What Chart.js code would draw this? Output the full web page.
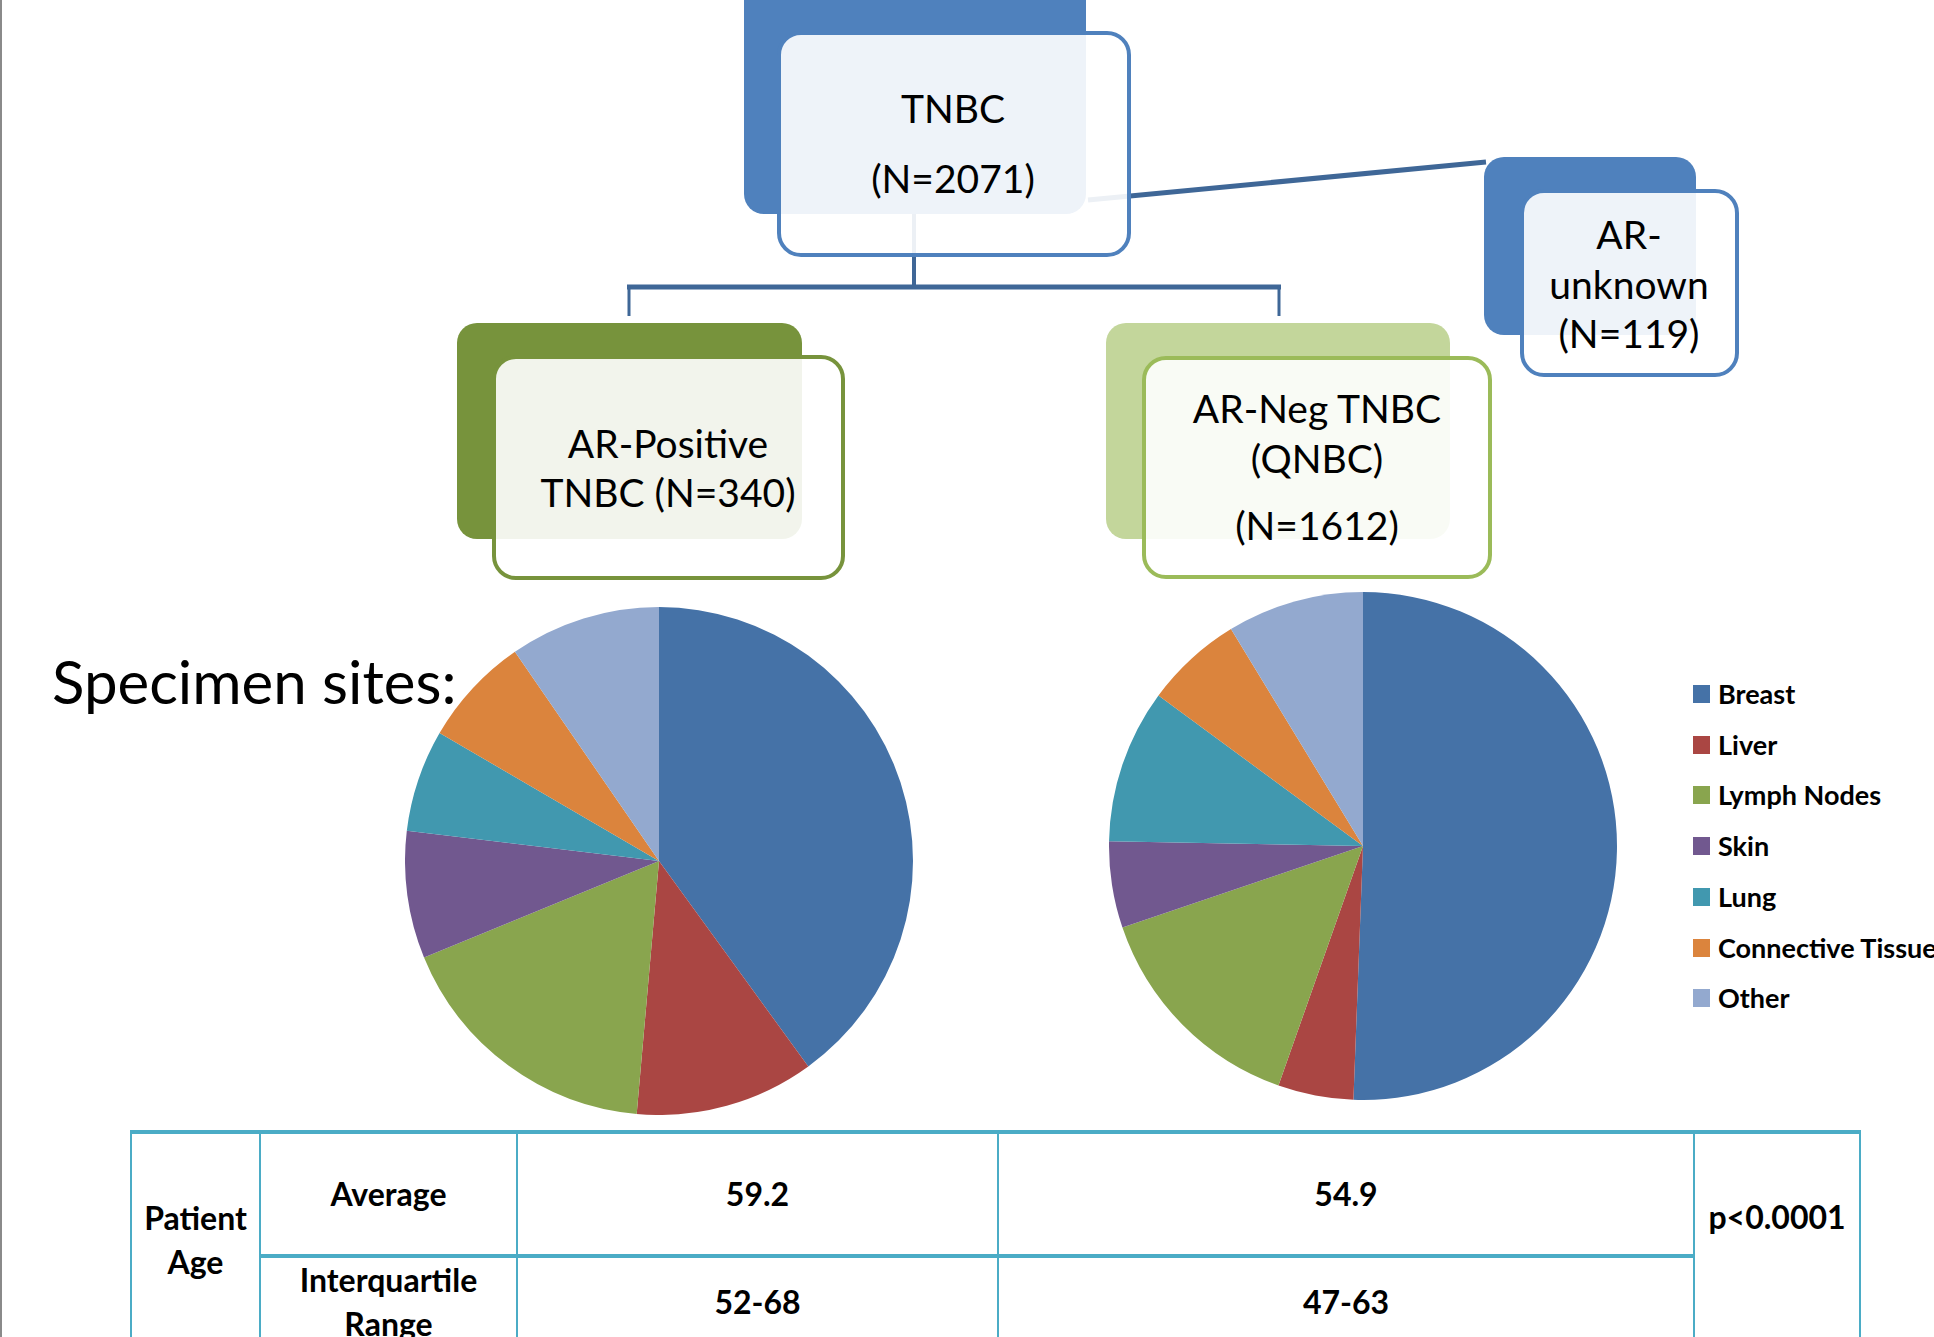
<!DOCTYPE html>
<html>
<head>
<meta charset="utf-8">
<script src="https://cdn.jsdelivr.net/npm/chart.js@4/dist/chart.umd.min.js"></script>
<style>
  html, body {
    margin: 0;
    padding: 0;
    background: #ffffff;
  }
  body {
    width: 1934px;
    height: 1337px;
    position: relative;
    overflow: hidden;
    font-family: Lato, "Open Sans", sans-serif;
    color: #000;
  }
  .abs { position: absolute; }
  .back { position: absolute; border-radius: 20px; }
  .front {
    position: absolute;
    box-sizing: border-box;
    border-width: 4px;
    border-style: solid;
    border-radius: 24px;
    background: rgba(255, 255, 255, 0.9);
  }
  .txt {
    position: absolute;
    white-space: nowrap;
    line-height: 1;
    transform: translate(-50%, -50%);
  }
  #leftEdge {
    position: absolute;
    left: 0;
    top: 0;
    width: 2px;
    height: 1337px;
    background: #8a8a8a;
  }
  table.age {
    position: absolute;
    left: 130px;
    top: 1130px;
    border-collapse: collapse;
    font-weight: 700;
    font-size: 32px;
    line-height: 44px;
    text-align: center;
  }
  table.age td {
    border: 2px solid #4bacc6;
    padding: 0;
    vertical-align: middle;
  }
  table.age tr.first td { border-top: 4px solid #4bacc6; }
  table.age tr.second td { border-top: 4px solid #4bacc6; }
  .legend-item {
    position: absolute;
    left: 1693px;
    height: 30px;
    font-weight: 700;
    font-size: 27px;
    white-space: nowrap;
  }
  .legend-item span.box {
    position: absolute;
    left: 0;
    top: 6px;
    width: 17px;
    height: 18px;
  }
  .legend-item span.lab {
    position: absolute;
    left: 25px;
    top: 0;
    line-height: 30px;
  }
</style>
</head>
<body>
<div id="leftEdge"></div>

<!-- back boxes -->
<div class="back" style="left:744px;top:-20px;width:342px;height:234px;background:#4f81bd;"></div>
<div class="back" style="left:1484px;top:157px;width:212px;height:178px;background:#4f81bd;"></div>
<div class="back" style="left:457px;top:323px;width:345px;height:216px;background:#77933c;"></div>
<div class="back" style="left:1106px;top:323px;width:344px;height:216px;background:#c3d69b;"></div>

<!-- connectors -->
<svg class="abs" style="left:0;top:0;" width="1934" height="600">
  <line x1="914" y1="214" x2="914" y2="289" stroke="#3f6797" stroke-width="4"/>
  <line x1="627" y1="287" x2="1281" y2="287" stroke="#3f6797" stroke-width="5"/>
  <line x1="629" y1="286" x2="629" y2="316" stroke="#3f6797" stroke-width="3"/>
  <line x1="1279" y1="286" x2="1279" y2="316" stroke="#3f6797" stroke-width="3"/>
  <line x1="1088" y1="200" x2="1486" y2="162" stroke="#3f6797" stroke-width="5"/>
</svg>

<!-- front boxes -->
<div class="front" style="left:777px;top:31px;width:354px;height:226px;border-color:#4f81bd;"></div>
<div class="front" style="left:1520px;top:189px;width:219px;height:188px;border-color:#4f81bd;"></div>
<div class="front" style="left:492px;top:355px;width:353px;height:225px;border-color:#77933c;"></div>
<div class="front" style="left:1142px;top:356px;width:350px;height:223px;border-color:#9bbb59;"></div>

<div id="labels"></div>

<canvas id="pieArPos" class="abs" width="508" height="508" style="left:405px;top:607px;"></canvas>
<canvas id="pieArNeg" class="abs" width="508" height="508" style="left:1109px;top:592px;"></canvas>

<div id="legend"></div>

<table class="age" id="ageTable"></table>

<script>
// Specimen sites (percent of each group)
const siteLabels = ["Breast", "Liver", "Lymph Nodes", "Skin", "Lung", "Connective Tissue", "Other"];
const siteColors = ["#4572a7", "#aa4643", "#89a54e", "#71588f", "#4198af", "#db843d", "#93a9cf"];
const arPositiveSites = [40.0, 11.4, 17.4, 8.1, 6.5, 7.0, 9.6];
const arNegativeSites = [50.6, 4.8, 14.4, 5.5, 9.8, 6.2, 8.7];

// Flowchart box texts
const tnbcLines = ["TNBC", "(N=2071)"];
const arUnknownLines = ["AR-", "unknown", "(N=119)"];
const arPositiveLines = ["AR-Positive", "TNBC (N=340)"];
const arNegativeLines = ["AR-Neg TNBC", "(QNBC)", "(N=1612)"];

// Patient age table
const ageRowLabels = ["Average", "Interquartile<br>Range"];
const arPositiveAge = ["59.2", "52-68"];
const arNegativeAge = ["54.9", "47-63"];
const ageGroupLabel = "Patient<br>Age";
const pValue = "p<0.0001";

function addText(parent, text, cx, cy, size, weight) {
  const d = document.createElement("div");
  d.className = "txt";
  d.textContent = text;
  d.style.left = cx + "px";
  d.style.top = cy + "px";
  d.style.fontSize = size + "px";
  if (weight) d.style.fontWeight = weight;
  parent.appendChild(d);
}

function drawLabels() {
  const host = document.getElementById("labels");
  const tnbcY = [108, 178];
  tnbcLines.forEach((t, i) => addText(host, t, 953, tnbcY[i], 39));
  const unkY = [234, 284, 333];
  arUnknownLines.forEach((t, i) => addText(host, t, 1629, unkY[i], 39));
  const posY = [443, 492];
  arPositiveLines.forEach((t, i) => addText(host, t, 668, posY[i], 39));
  const negY = [408, 458, 525];
  arNegativeLines.forEach((t, i) => addText(host, t, 1317, negY[i], 39));

  const s = document.createElement("div");
  s.className = "abs";
  s.textContent = "Specimen sites:";
  s.style.left = "52px";
  s.style.top = "651px";
  s.style.fontSize = "60px";
  s.style.lineHeight = "1";
  s.style.whiteSpace = "nowrap";
  host.appendChild(s);
}

function drawPie(id, values) {
  const ctx = document.getElementById(id).getContext("2d");
  return new Chart(ctx, {
    type: "pie",
    data: {
      labels: siteLabels,
      datasets: [
        {
          data: values,
          backgroundColor: siteColors,
          borderWidth: 0,
        },
      ],
    },
    options: {
      responsive: false,
      animation: false,
      layout: { padding: 0 },
      plugins: {
        legend: { display: false },
        tooltip: { enabled: false },
      },
    },
  });
}

function drawLegend() {
  const host = document.getElementById("legend");
  const firstY = 679;
  const step = 50.7;
  siteLabels.forEach((label, i) => {
    const item = document.createElement("div");
    item.className = "legend-item";
    item.style.top = Math.round(firstY + i * step) + "px";
    item.innerHTML =
      '<span class="box" style="background:' + siteColors[i] + '"></span>' +
      '<span class="lab">' + label + "</span>";
    host.appendChild(item);
  });
}

function drawTable() {
  const t = document.getElementById("ageTable");
  const widths = [129, 257, 481, 696, 166];
  const heights = [124, 90];
  let html = "<colgroup>" + widths.map((w) => '<col style="width:' + w + 'px">').join("") + "</colgroup>";
  ageRowLabels.forEach((label, i) => {
    html += '<tr class="' + (i === 0 ? "first" : "second") + '" style="height:' + heights[i] + 'px">';
    if (i === 0) html += '<td rowspan="2">' + ageGroupLabel + "</td>";
    html += "<td>" + label + "</td>";
    html += "<td>" + arPositiveAge[i] + "</td>";
    html += "<td>" + arNegativeAge[i] + "</td>";
    if (i === 0) html += '<td rowspan="2" style="padding-bottom:46px">' + pValue.replace("<", "&lt;") + "</td>";
    html += "</tr>";
  });
  t.innerHTML = html;
}

drawLabels();
drawPie("pieArPos", arPositiveSites);
drawPie("pieArNeg", arNegativeSites);
drawLegend();
drawTable();
</script>
</body>
</html>
